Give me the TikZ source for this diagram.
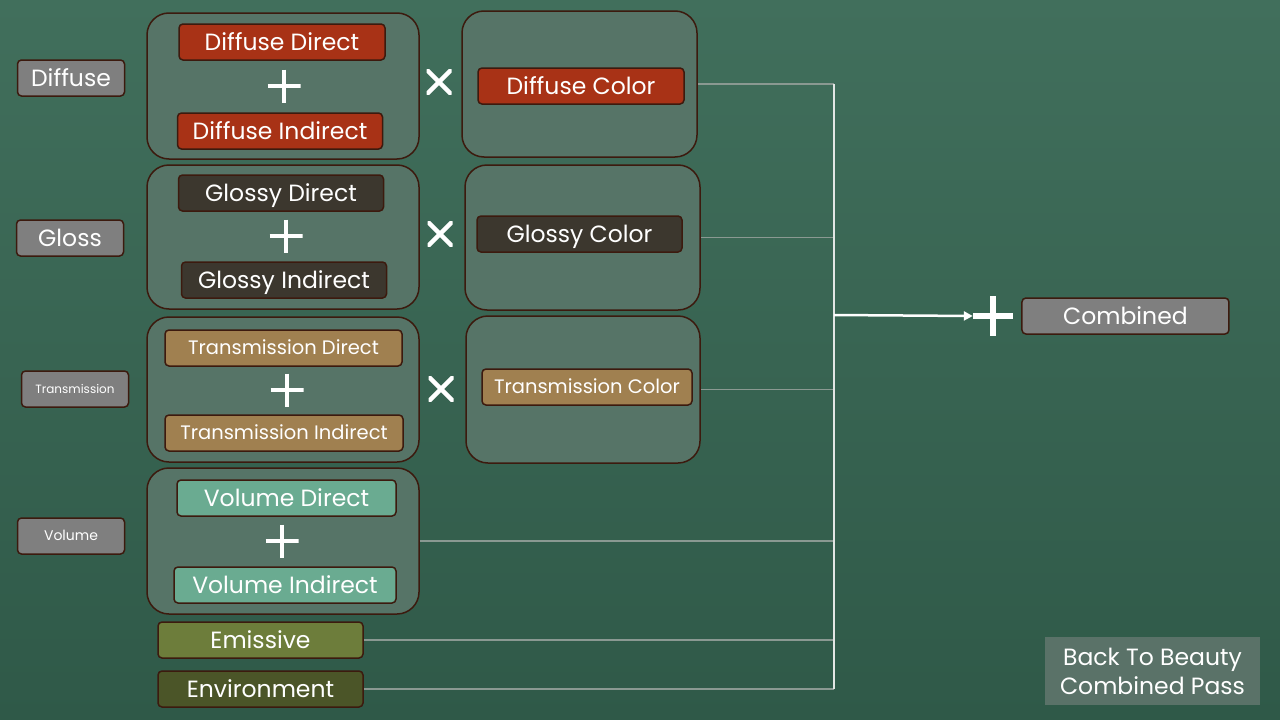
\documentclass[tikz,border=0pt]{standalone}
\usepackage{fontspec}
\setmainfont{Poppins}
\usetikzlibrary{positioning,arrows.meta}
\definecolor{cBgTop}{HTML}{416F5C}
\definecolor{cBgBottom}{HTML}{2F5948}
\definecolor{cGroup}{HTML}{567467}
\definecolor{cEdge}{HTML}{3C1A0E}
\definecolor{cLabel}{HTML}{7F7F7F}
\definecolor{cDiffuse}{HTML}{A83216}
\definecolor{cGlossy}{HTML}{3C372E}
\definecolor{cTrans}{HTML}{A08050}
\definecolor{cVolume}{HTML}{6AAB91}
\definecolor{cEmissive}{HTML}{6D7D3B}
\definecolor{cEnviron}{HTML}{4B5528}
\definecolor{cBack}{HTML}{5A7268}
\definecolor{cLink}{HTML}{8A9992}

\begin{document}
\begin{tikzpicture}[
  x=1pt, y=-1pt,
  every node/.style={font=\fontsize{23.5}{28}\selectfont, text=white},
  passbox/.style={draw=cEdge, line width=1.5pt, rounded corners=4pt, inner sep=0pt,
                  minimum height=36pt, text height=16.5pt, text depth=0pt, align=center},
  transbox/.style={passbox, fill=cTrans, font=\fontsize{19.5}{23}\selectfont, text height=13.7pt},
  sidebox/.style={passbox, fill=cLabel, minimum width=107pt},
  group/.style={draw=cEdge, line width=1.5pt, fill=cGroup, rounded corners=22pt, inner sep=0pt},
  plussign/.style={minimum size=#1, inner sep=0pt,
                   path picture={\draw[white, line width=0.14*#1]
                     (path picture bounding box.north) -- (path picture bounding box.south)
                     (path picture bounding box.west) -- (path picture bounding box.east);}},
  timessign/.style={minimum size=25pt, inner sep=0pt,
                    path picture={\draw[white, line width=4.5pt]
                      (path picture bounding box.north west) -- (path picture bounding box.south east)
                      (path picture bounding box.south west) -- (path picture bounding box.north east);}},
  link/.style={draw=cLink, line width=1.3pt},
  arr/.style={-{Triangle[length=9pt, width=9pt]}, white, line width=2.5pt},
]
  % background
  \shade[top color=cBgTop, bottom color=cBgBottom] (0,0) rectangle (1280,720);
  \useasboundingbox (0,0) rectangle (1280,720);

  % left labels
  \node[sidebox] (diffuse) at (71,78) {Diffuse};
  \node[sidebox] (gloss) at (70,238) {Gloss};
  \node[sidebox, font=\fontsize{12}{14}\selectfont, text height=8.4pt] (trans) at (75,389) {Transmission};
  \node[sidebox, font=\fontsize{14}{16}\selectfont, text height=9.8pt] (volume) at (71,536) {Volume};

  % light groups
  \node[group, minimum width=272pt, minimum height=146pt] (gDiffuse) at (283,86) {};
  \node[group, minimum width=272pt, minimum height=144pt] (gGloss) at (283,237) {};
  \node[group, minimum width=272pt, minimum height=145pt] (gTrans) at (283,389.5) {};
  \node[group, minimum width=272pt, minimum height=146pt] (gVolume) at (283,541) {};

  % colour groups
  \node[group, minimum width=235pt, minimum height=146pt] (cgDiffuse) at (579.5,84) {};
  \node[group, minimum width=235pt, minimum height=145pt] (cgGloss) at (582.5,237.5) {};
  \node[group, minimum width=234pt, minimum height=147pt] (cgTrans) at (583,389.5) {};

  % diffuse
  \node[passbox, fill=cDiffuse, minimum width=206pt] (dDirect) at (282,42) {Diffuse Direct};
  \node[plussign=33pt] (dPlus) at (284,86) {};
  \node[passbox, fill=cDiffuse, minimum width=205pt] (dIndirect) at (280,131) {Diffuse Indirect};
  \node[timessign] (dTimes) at (439,82) {};
  \node[passbox, fill=cDiffuse, minimum width=206pt] (dColor) at (581,86) {Diffuse Color};

  % glossy
  \node[passbox, fill=cGlossy, minimum width=205pt] (gDirect) at (281,193) {Glossy Direct};
  \node[plussign=33pt] (gPlus) at (286,236) {};
  \node[passbox, fill=cGlossy, minimum width=205pt] (gIndirect) at (284,280) {Glossy Indirect};
  \node[timessign] (gTimes) at (440,234) {};
  \node[passbox, fill=cGlossy, minimum width=205pt] (gColor) at (579.5,234) {Glossy Color};

  % transmission
  \node[transbox, minimum width=237pt] (tDirect) at (283.5,348) {Transmission Direct};
  \node[plussign=33pt] (tPlus) at (287,390) {};
  \node[transbox, minimum width=238pt] (tIndirect) at (284,433) {Transmission Indirect};
  \node[timessign] (tTimes) at (441,389) {};
  \node[transbox, minimum width=210pt] (tColor) at (587,387) {Transmission Color};

  % volume
  \node[passbox, fill=cVolume, minimum width=219pt] (vDirect) at (286.5,498) {Volume Direct};
  \node[plussign=33pt] (vPlus) at (282,541) {};
  \node[passbox, fill=cVolume, minimum width=222pt] (vIndirect) at (285,585) {Volume Indirect};

  % emissive, environment
  \node[passbox, fill=cEmissive, minimum width=205pt] (emissive) at (260.5,640) {Emissive};
  \node[passbox, fill=cEnviron, minimum width=205pt] (environ) at (260.5,689) {Environment};

  % combined
  \coordinate (bus) at (834,315);
  \node[plussign=40pt] (cPlus) at (993,316) {};
  \node[passbox, fill=cLabel, minimum width=207pt, right=8pt of cPlus] (combined) {Combined};

  \node[fill=cBack, minimum width=215pt, minimum height=68pt, inner sep=0pt, align=center,
        font=\fontsize{23.5}{29}\selectfont] (back) at (1152.5,671) {Back To Beauty\\Combined Pass};

  % connectors
  \draw[link] (cgDiffuse.east) -- (cgDiffuse.east -| bus);
  \draw[link] (cgGloss.east) -- (cgGloss.east -| bus);
  \draw[link] (cgTrans.east) -- (cgTrans.east -| bus);
  \draw[link] (gVolume.east) -- (gVolume.east -| bus);
  \draw[link] (emissive.east) -- (emissive.east -| bus);
  \draw[link] (environ.east) -- (environ.east -| bus);
  \draw[draw=white!75!cLink, line width=1.5pt] (bus |- cgDiffuse.east) -- (bus |- environ.east);
  \draw[arr] (bus) -- (cPlus.west);
\end{tikzpicture}
\end{document}
